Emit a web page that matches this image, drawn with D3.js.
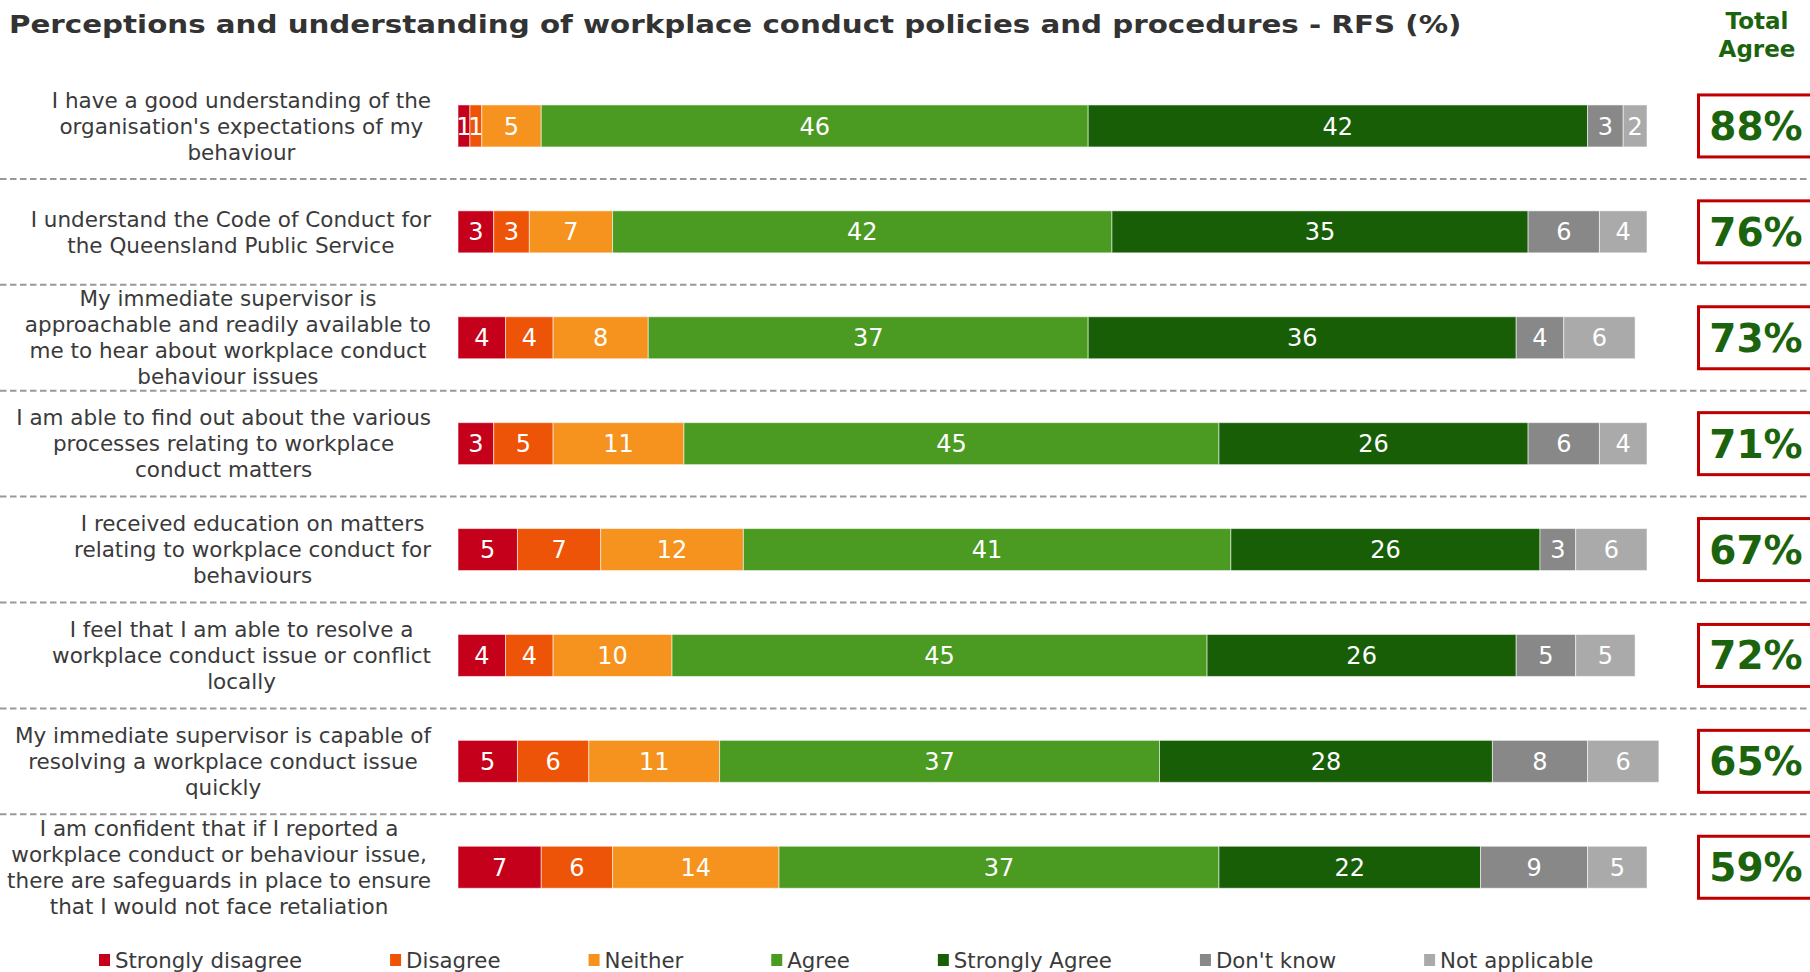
<!DOCTYPE html>
<html>
<head>
<meta charset="utf-8">
<script src="https://cdn.jsdelivr.net/npm/d3@7"></script>
<style>
  html, body { margin: 0; padding: 0; background: #fff; }
  svg { display: block; font-family: "DejaVu Sans", Verdana, sans-serif; }
</style>
</head>
<body>
<svg id="chart" width="1810" height="972"></svg>
<script>
// Survey statements (line breaks as laid out in the row labels)
const questions = [
  ["I have a good understanding of the", "organisation's expectations of my", "behaviour"],
  ["I understand the Code of Conduct for", "the Queensland Public Service"],
  ["My immediate supervisor is", "approachable and readily available to", "me to hear about workplace conduct", "behaviour issues"],
  ["I am able to find out about the various", "processes relating to workplace", "conduct matters"],
  ["I received education on matters", "relating to workplace conduct for", "behaviours"],
  ["I feel that I am able to resolve a", "workplace conduct issue or conflict", "locally"],
  ["My immediate supervisor is capable of", "resolving a workplace conduct issue", "quickly"],
  ["I am confident that if I reported a", "workplace conduct or behaviour issue,", "there are safeguards in place to ensure", "that I would not face retaliation"]
];

// Response categories, in stacking order
const categories = ["Strongly disagree", "Disagree", "Neither", "Agree", "Strongly Agree", "Don't know", "Not applicable"];
const categoryColors = ["#C5001A", "#EE5407", "#F6921E", "#4B9B22", "#185E07", "#888888", "#AAAAAA"];

// Percentage of respondents per response, one value per statement
const stronglyDisagree = [1, 3, 4, 3, 5, 4, 5, 7];
const disagree         = [1, 3, 4, 5, 7, 4, 6, 6];
const neither          = [5, 7, 8, 11, 12, 10, 11, 14];
const agree            = [46, 42, 37, 45, 41, 45, 37, 37];
const stronglyAgree    = [42, 35, 36, 26, 26, 26, 28, 22];
const dontKnow         = [3, 6, 4, 6, 3, 5, 8, 9];
const notApplicable    = [2, 4, 6, 4, 6, 5, 6, 5];

// Total agree (Agree + Strongly Agree), as reported
const totalAgree = [88, 76, 73, 71, 67, 72, 65, 59];

const titleText = "Perceptions and understanding of workplace conduct policies and procedures - RFS (%)";

const seriesValues = [stronglyDisagree, disagree, neither, agree, stronglyAgree, dontKnow, notApplicable];
const table = questions.map((q, i) => {
  const row = { idx: i };
  categories.forEach((c, k) => { row[c] = seriesValues[k][i]; });
  return row;
});
const stacked = d3.stack().keys(categories)(table);

const svg = d3.select("#chart");
const W = 1810;

const x = d3.scaleLinear().domain([0, 100]).range([458, 1647]);
const y = d3.scaleBand().domain(d3.range(questions.length)).range([73, 920.2]).padding(0);
const color = d3.scaleOrdinal().domain(categories).range(categoryColors);
const barH = 42;
const barY = i => y(i) + y.bandwidth() / 2 - barH / 2;
const mid = i => y(i) + y.bandwidth() / 2;

// Title: wide bold face, stretched horizontally to the heading width
const titleWidth = 1453;
const title = svg.append("text")
  .attr("x", 0).attr("y", 0)
  .attr("font-size", 25.5).attr("font-weight", "bold").attr("fill", "#333333")
  .text(titleText);
const tw = title.node().getComputedTextLength();
title.attr("transform", `translate(9,33) scale(${titleWidth / tw},1)`);

// Total Agree header
const hdr = svg.append("text")
  .attr("text-anchor", "middle").attr("font-size", 23).attr("font-weight", "bold")
  .attr("fill", "#1B640D");
hdr.append("tspan").attr("x", 1757).attr("y", 29).text("Total");
hdr.append("tspan").attr("x", 1757).attr("y", 57).text("Agree");

// Dashed row separators
svg.append("g").selectAll("line")
  .data(d3.range(1, questions.length))
  .join("line")
  .attr("x1", 0).attr("x2", W)
  .attr("y1", i => y(i)).attr("y2", i => y(i))
  .attr("stroke", "#999999").attr("stroke-width", 2)
  .attr("stroke-dasharray", "6.5,3.5");

// Stacked bars
const layers = svg.append("g").selectAll("g")
  .data(stacked)
  .join("g")
  .attr("fill", d => color(d.key));

layers.selectAll("rect")
  .data(d => d)
  .join("rect")
  .attr("x", d => x(d[0]))
  .attr("width", d => x(d[1]) - x(d[0]))
  .attr("y", d => barY(d.data.idx))
  .attr("height", barH)
  .attr("stroke", "rgba(255,255,255,0.55)")
  .attr("stroke-width", 1);

// Segment value labels
layers.selectAll("text")
  .data(d => d)
  .join("text")
  .attr("x", d => (x(d[0]) + x(d[1])) / 2)
  .attr("y", d => mid(d.data.idx))
  .attr("dy", "0.36em")
  .attr("text-anchor", "middle")
  .attr("font-size", 24)
  .attr("fill", "#ffffff")
  .text(d => d[1] - d[0]);

// Row labels: centred lines inside a right-aligned block
const labelRight = 431;
const lineGap = 26;
questions.forEach((lines, i) => {
  const g = svg.append("g");
  const t = g.selectAll("text")
    .data(lines)
    .join("text")
    .attr("font-size", 21.5)
    .attr("fill", "#3a3a3a")
    .attr("text-anchor", "middle")
    .attr("y", (d, k) => mid(i) + (k - (lines.length - 1) / 2) * lineGap)
    .attr("dy", "0.36em")
    .text(d => d);
  let maxW = 0;
  t.each(function () { maxW = Math.max(maxW, this.getComputedTextLength()); });
  t.attr("x", labelRight - maxW / 2);
});

// Total agree boxes
const boxes = svg.append("g").selectAll("g")
  .data(totalAgree)
  .join("g");
boxes.append("rect")
  .attr("x", 1698.5)
  .attr("y", (d, i) => mid(i) - 31)
  .attr("width", 130)
  .attr("height", 62)
  .attr("fill", "#ffffff")
  .attr("stroke", "#C00000")
  .attr("stroke-width", 3);
boxes.append("text")
  .attr("x", 1756)
  .attr("y", (d, i) => mid(i))
  .attr("dy", "0.36em")
  .attr("text-anchor", "middle")
  .attr("font-size", 39)
  .attr("font-weight", "bold")
  .attr("fill", "#1B640D")
  .text(d => d + "%");

// Legend
const legend = svg.append("g").attr("transform", "translate(0,960)");
let lx = 99;
categories.forEach(c => {
  const item = legend.append("g").attr("transform", `translate(${lx},0)`);
  item.append("rect").attr("x", 0).attr("y", -6).attr("width", 11).attr("height", 12).attr("fill", color(c));
  const txt = item.append("text")
    .attr("x", 16).attr("y", 0).attr("dy", "0.36em")
    .attr("font-size", 21.3).attr("fill", "#3a3a3a")
    .text(c);
  lx += 16 + txt.node().getComputedTextLength() + 88;
});
</script>
</body>
</html>
